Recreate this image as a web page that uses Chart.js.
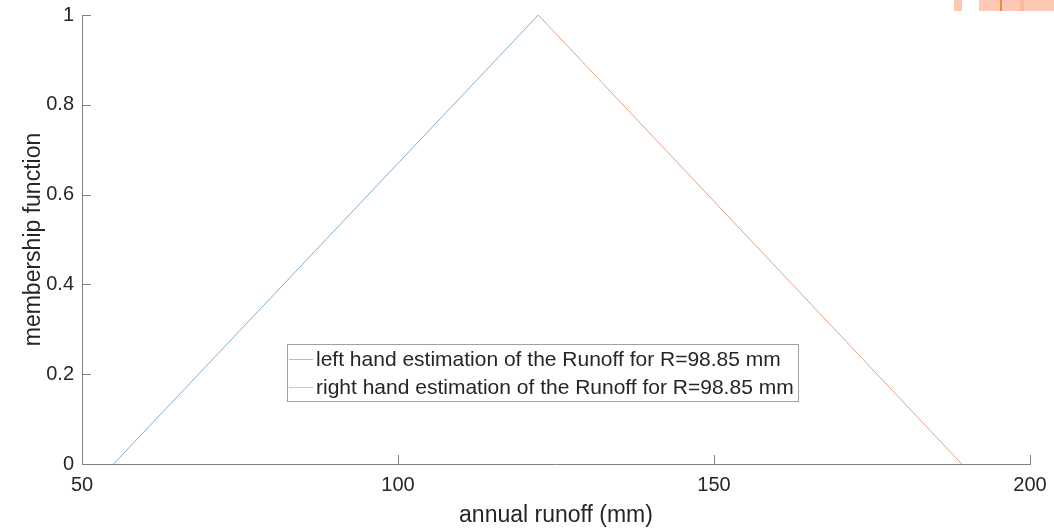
<!DOCTYPE html>
<html>
<head>
<meta charset="utf-8">
<script src="https://cdn.jsdelivr.net/npm/chart.js@4"></script>
<style>
  html, body { margin: 0; padding: 0; background: #fff; overflow: hidden; }
  canvas { display: block; }
</style>
</head>
<body>
<canvas id="chart" width="1054" height="528"></canvas>
<script>
"use strict";

// data
const leftX = [55, 122.2];
const leftY = [0, 1];
const rightX = [122.2, 189.2];
const rightY = [1, 0];
const seriesNames = [
    "left hand estimation of the Runoff for R=98.85 mm",
    "right hand estimation of the Runoff for R=98.85 mm"
];
const xTicks = [50, 100, 150, 200];
const yTicks = [0, 0.2, 0.4, 0.6, 0.8, 1];

const FONT = "'Liberation Sans', Arial, sans-serif";
const AXIS = "#808080";
const TEXT = "#262626";

function toPoints(xs, ys) {
    return xs.map((x, i) => ({ x: x, y: ys[i] }));
}

// inward ticks like matlab + legend box + the orange scrap at the top
const extras = {
    id: "extras",
    afterDraw(chart) {
        const ctx = chart.ctx;
        const xs = chart.scales.x, ys = chart.scales.y;
        const area = chart.chartArea;
        ctx.save();
        ctx.strokeStyle = AXIS;
        ctx.lineWidth = 1;
        ctx.beginPath();
        yTicks.forEach(v => {
            const py = Math.round(ys.getPixelForValue(v)) + 0.5;
            ctx.moveTo(area.left, py);
            ctx.lineTo(area.left + 9, py);
        });
        xTicks.forEach(v => {
            const px = Math.round(xs.getPixelForValue(v)) + 0.5;
            ctx.moveTo(px, area.bottom);
            ctx.lineTo(px, area.bottom - 9);
        });
        ctx.stroke();

        // legend
        const lx = 287, ly = 344, lw = 511, lh = 57;
        ctx.fillStyle = "#fff";
        ctx.fillRect(lx, ly, lw, lh);
        ctx.strokeStyle = "#a0a0a0";
        ctx.strokeRect(lx + 0.5, ly + 0.5, lw, lh);
        ctx.font = "21px " + FONT;
        ctx.textBaseline = "middle";
        const sampleColors = ["#9cc6e4", "#e6c29c"];
        chart.data.datasets.forEach((ds, i) => {
            const cy = ly + 15 + i * 28;
            ctx.strokeStyle = sampleColors[i];
            ctx.beginPath();
            ctx.moveTo(lx + 2, cy + 0.5);
            ctx.lineTo(lx + 26, cy + 0.5);
            ctx.stroke();
            ctx.fillStyle = TEXT;
            ctx.fillText(ds.label, lx + 29, cy + 1);
        });

        // bit of another figure cut off at the top right
        ctx.fillStyle = "#fdc8b4";
        ctx.fillRect(954, 0, 8, 11);
        ctx.fillRect(979, 0, 75, 11);
        ctx.fillStyle = "#fbb89c";
        ctx.fillRect(1020, 0, 4, 11);
        ctx.fillStyle = "#f58a3c";
        ctx.fillRect(1000, 0, 2, 11);
        ctx.restore();
    }
};

window.onload = init;

function init() {
    const ctx = document.getElementById("chart").getContext("2d");
    new Chart(ctx, {
        type: "line",
        data: {
            datasets: [{
                label: seriesNames[0],
                data: toPoints(leftX, leftY),
                borderColor: "#7fb0d6",
                borderWidth: 1,
                pointRadius: 0,
                tension: 0
            }, {
                label: seriesNames[1],
                data: toPoints(rightX, rightY),
                borderColor: "#e2a283",
                borderWidth: 1,
                pointRadius: 0,
                tension: 0
            }]
        },
        options: {
            responsive: false,
            animation: false,
            layout: { padding: { left: 0, top: 15, right: 24, bottom: 0 } },
            plugins: {
                legend: { display: false },
                tooltip: { enabled: false }
            },
            scales: {
                x: {
                    type: "linear",
                    min: 50,
                    max: 200,
                    afterBuildTicks: s => { s.ticks = xTicks.map(v => ({ value: v })); },
                    afterFit: s => { s.height = 64; },
                    grid: { display: false },
                    border: { display: true, color: AXIS },
                    ticks: { color: TEXT, font: { family: FONT, size: 20 }, padding: 1, maxRotation: 0, autoSkip: false },
                    title: { display: true, text: "annual runoff (mm)", color: TEXT, font: { family: FONT, size: 23, lineHeight: 1 }, padding: { top: 0, bottom: 1 } }
                },
                y: {
                    min: 0,
                    max: 1,
                    afterBuildTicks: s => { s.ticks = yTicks.map(v => ({ value: v })); },
                    afterFit: s => { s.width = 82; },
                    grid: { display: false },
                    border: { display: true, color: AXIS },
                    ticks: { color: TEXT, font: { family: FONT, size: 20 }, padding: 0, autoSkip: false, callback: v => String(v) },
                    title: { display: true, text: "membership function", color: TEXT, font: { family: FONT, size: 23, lineHeight: 1 }, padding: { top: 22, bottom: 0 } }
                }
            }
        },
        plugins: [extras]
    });
}
</script>
</body>
</html>
